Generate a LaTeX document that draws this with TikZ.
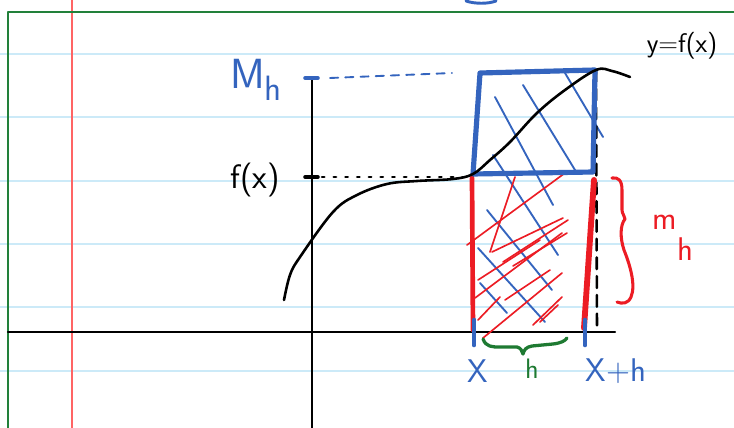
\documentclass[tikz,border=0pt]{standalone}
\usepackage{tikz}
\usetikzlibrary{calc,positioning}

\definecolor{inkblue}{RGB}{52,100,190}
\definecolor{inkred}{RGB}{236,28,36}
\definecolor{inkgreen}{RGB}{30,122,50}
\definecolor{ruleblue}{RGB}{204,234,248}
\definecolor{marginred}{RGB}{255,100,100}
\definecolor{framegreen}{RGB}{34,128,58}

\begin{document}
\begin{tikzpicture}[
    x=0.03cm, y=-0.03cm,
    line cap=round, line join=round,
    ruled/.style={ruleblue, line width=1.6pt},
    margin/.style={marginred, line width=1.3pt},
    frame/.style={framegreen, line width=2pt},
    axis/.style={black, line width=2pt},
    pen/.style={line width=2.2pt},
    thickpen/.style={line width=4.4pt},
    hatchblue/.style={inkblue, line width=1.6pt},
    hatchred/.style={inkred, line width=1.4pt},
    lbl/.style={inner sep=0pt}
]
    \useasboundingbox (0,0) rectangle (734,428);
    \fill[white] (0,0) rectangle (734,428);

    % notebook paper
    \foreach \yy in {54,117,181,244,307,371}
        \draw[ruled] (0,\yy) -- (734,\yy);
    \draw[margin] (72,0) -- (72,428);
    \draw[frame] (8,428) -- (8,12) -- (734,12);
    \draw[inkblue, line width=2.5pt] (466,1) .. controls (475,4) and (488,4) .. (496,1);

    % axes
    \coordinate (xl) at (8,332);
    \coordinate (xr) at (615,332);
    \coordinate (yt) at (312,78);
    \coordinate (yb) at (312,428);
    \draw[axis] (xl) -- (xr);
    \draw[axis] (yt) -- (yb);

    % key points
    \coordinate (A) at (473,174);   % (x, f(x))
    \coordinate (B) at (596,70);    % (x+h, f(x+h))
    \coordinate (xa) at (473,332);
    \coordinate (xb) at (585,332);

    % hatching
    \foreach \p/\q in {{495,97}/{553,205}, {523,85}/{575,170}, {565,73}/{603,137},
                       {493,155}/{558,255}, {487,210}/{552,290}, {478,248}/{545,322},
                       {480,283}/{507,313}}
        \draw[hatchblue] (\p) -- (\q);
    \foreach \p/\q in {{490,252}/{515,177}, {467,245}/{565,173}, {492,252}/{563,218},
                       {503,262}/{568,220}, {513,266}/{567,233}, {475,298}/{562,233},
                       {483,338}/{562,273}, {478,320}/{500,297}, {533,325}/{562,297},
                       {505,300}/{550,270}, {478,280}/{540,240}, {540,322}/{558,305}}
        \draw[hatchred] (\p) -- (\q);

    % verticals at x and x+h
    \draw[pen] (A) -- (xa);
    \draw[pen, dashed, dash pattern=on 10pt off 6pt] (B) -- (597,330);
    \draw[inkred, line width=4pt] (472,178) -- (473,330);
    \draw[inkred, line width=5pt] (594,180) -- (584,328);

    % upper rectangle
    \draw[inkblue, thickpen] (480,73) -- (595,70) -- (593,172) -- (A) -- cycle;

    % the graph
    \draw[pen] plot[smooth, tension=0.6] coordinates {(284,300) (290,275) (300,257)
        (333,212) (357,195) (387,184) (417,181) (453,179) (A) (490,160) (510,142)
        (537,113) (565,90) (B) (612,71) (630,77)};

    % levels on the y axis
    \draw[black, line width=3pt] (305,177) -- (318,177);
    \draw[pen, dash pattern=on 2pt off 8pt] (322,177) -- (468,177);
    \draw[inkblue, line width=3pt] (305,78) -- (318,78);
    \draw[inkblue, line width=1.6pt, dashed, dash pattern=on 7pt off 6pt] (330,78) -- (452,73);

    % ticks on the x axis
    \draw[inkblue, line width=4pt] (474,320) -- (474,345);
    \draw[inkblue, line width=4pt] (585,320) -- (585,345);

    % braces
    \draw[inkgreen, line width=2.8pt] (483,339) .. controls (486,347) and (492,347) .. (500,347)
        -- (517,347) .. controls (521,348) and (522,351) .. (523,354)
        .. controls (524,350) and (526,347) .. (532,346)
        -- (553,344) .. controls (561,343) and (565,341) .. (567,338);
    \draw[inkred, line width=2.6pt] (612,178) .. controls (618,177) and (622,180) .. (622,190)
        -- (622,210) .. controls (622,214) and (625,216) .. (625,219)
        .. controls (620,225) and (620,238) .. (624,250)
        .. controls (630,265) and (636,285) .. (631,297)
        .. controls (628,304) and (622,304) .. (617,302);

    % labels
    \node[lbl, text=inkblue, font=\sffamily\fontsize{36}{40}\selectfont] (Mh) at (256,80)
        {M\raisebox{-0.3em}{\fontsize{30}{34}\selectfont h}};
    \node[lbl, font=\sffamily\fontsize{29}{33}\selectfont] (fx) at (255,180) {f(x)};
    \node[lbl, font=\sffamily\fontsize{23}{27}\selectfont] (graph) at (682,46) {y=f(x)};
    \node[lbl, text=inkblue, font=\sffamily\fontsize{28}{32}\selectfont] (lx) at (478,371) {X};
    \node[lbl, text=inkgreen, font=\sffamily\fontsize{24}{28}\selectfont] (lh) at (532,369) {h};
    \node[lbl, text=inkblue, font=\sffamily\fontsize{28}{32}\selectfont] (lxh) at (616,371) {X+h};
    \node[lbl, text=inkred, font=\sffamily\fontsize{28}{32}\selectfont] (mh) at (673,238)
        {m\raisebox{-0.95em}{h}};
\end{tikzpicture}
\end{document}
